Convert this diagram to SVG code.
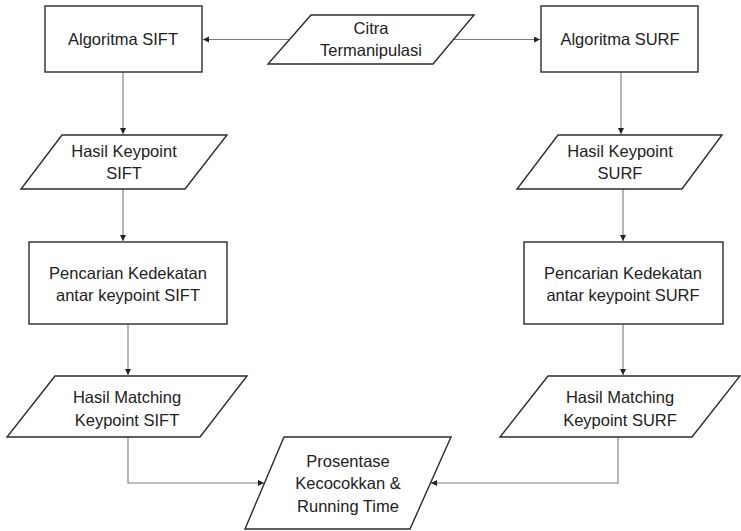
<svg xmlns="http://www.w3.org/2000/svg" width="741" height="531" viewBox="0 0 741 531">
<defs>
<marker id="ah" markerWidth="8" markerHeight="8" refX="6" refY="3" orient="auto" markerUnits="userSpaceOnUse">
<path d="M0,0 L6,3 L0,6 Z" fill="#222"/>
</marker>
<style>
.shape{fill:#fff;stroke:#2b2b2b;stroke-width:1.4}
.conn{fill:none;stroke:#7a7a7a;stroke-width:1.1;marker-end:url(#ah)}
text{font-family:"Liberation Sans",Arial,sans-serif;font-size:16.5px;fill:#222;text-anchor:middle}
</style>
</defs>
<rect width="741" height="531" fill="#fff"/>
<g id="connectors">
<path class="conn" d="M289,39.5 H203"/>
<path class="conn" d="M453,39.5 H540"/>
<path class="conn" d="M123,72 V134"/>
<path class="conn" d="M621,72 V134"/>
<path class="conn" d="M123,189 V241"/>
<path class="conn" d="M623,189 V241"/>
<path class="conn" d="M128,324 V375"/>
<path class="conn" d="M623,324 V375"/>
<path class="conn" d="M128,437 V483 H264"/>
<path class="conn" d="M618,437 V483 H431"/>
</g>
<g id="citra">
<polygon class="shape" points="311,15 474,15 433,64 268,64"/>
<text x="371" y="34">Citra</text>
<text x="371" y="56">Termanipulasi</text>
</g>
<g id="algo-sift">
<rect class="shape" x="45" y="6" width="157" height="66"/>
<text x="123" y="45">Algoritma SIFT</text>
</g>
<g id="algo-surf">
<rect class="shape" x="541" y="6" width="157" height="66"/>
<text x="620" y="45">Algoritma SURF</text>
</g>
<g id="kp-sift">
<polygon class="shape" points="62,135 227,135 185,189 21,189"/>
<text x="124" y="157">Hasil Keypoint</text>
<text x="124" y="179">SIFT</text>
</g>
<g id="kp-surf">
<polygon class="shape" points="558,135 722,135 682,189 517,189"/>
<text x="620" y="157">Hasil Keypoint</text>
<text x="620" y="179">SURF</text>
</g>
<g id="cari-sift">
<rect class="shape" x="29" y="242" width="198" height="82"/>
<text x="128" y="279">Pencarian Kedekatan</text>
<text x="128" y="301">antar keypoint SIFT</text>
</g>
<g id="cari-surf">
<rect class="shape" x="524" y="242" width="199" height="82"/>
<text x="623" y="279">Pencarian Kedekatan</text>
<text x="623" y="301">antar keypoint SURF</text>
</g>
<g id="match-sift">
<polygon class="shape" points="55,376 247,376 200,437 7,437"/>
<text x="127" y="403">Hasil Matching</text>
<text x="127" y="426">Keypoint SIFT</text>
</g>
<g id="match-surf">
<polygon class="shape" points="548,376 740,376 692,437 500,437"/>
<text x="620" y="403">Hasil Matching</text>
<text x="620" y="426">Keypoint SURF</text>
</g>
<g id="prosentase">
<polygon class="shape" points="284,437 451,437 410,529 245,529"/>
<text x="348" y="467">Prosentase</text>
<text x="348" y="489">Kecocokkan &amp;</text>
<text x="348" y="512">Running Time</text>
</g>
</svg>
